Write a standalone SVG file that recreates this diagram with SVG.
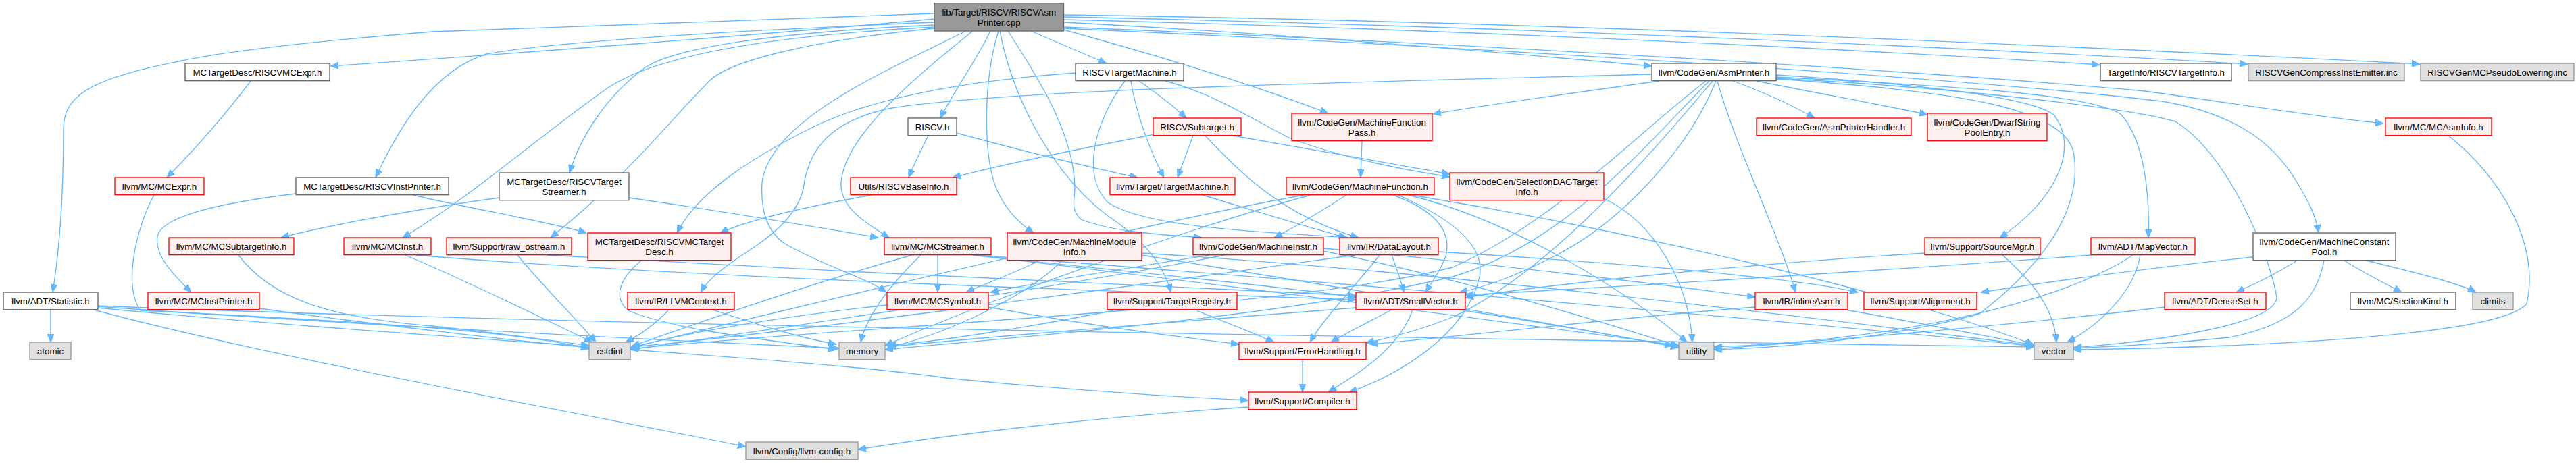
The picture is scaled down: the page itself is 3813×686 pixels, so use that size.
<svg xmlns="http://www.w3.org/2000/svg" width="3813" height="686" viewBox="0 0 3813 686">
<defs>
<marker id="a" markerWidth="13" markerHeight="10" refX="12" refY="5" orient="auto" markerUnits="userSpaceOnUse"><path d="M0,0 L12,5 L0,10 z" fill="#63b8ff" stroke="#63b8ff"/></marker>
<style>
rect{stroke-width:1.33}
.w rect{fill:#ffffff;stroke:#666666}
.r rect{fill:#fff0f0;stroke:#ff0000}
.g rect{fill:#e0e0e0;stroke:#999999}
.k rect{fill:#999999;stroke:#666666}
text{font-family:"Liberation Sans",Arial,Helvetica,sans-serif;font-size:13.33px;text-anchor:middle;fill:#000000}
#edges path{fill:none;stroke:#63b8ff;stroke-width:1.33;marker-end:url(#a)}
</style>
</defs>
<rect width="3813" height="686" fill="#ffffff"/>
<g id="edges">
<path d="M1383,28 C1150,50 750,80 489,98"/>
<path d="M1383,20 C1050,30 720,42 640,47 C480,60 340,75 269,90 C150,114 94,135 94,190 C94,290 88,370 78,433"/>
<path d="M1383,33 C1100,45 830,60 720,80 C640,105 590,190 556,263"/>
<path d="M1383,37 C1150,48 1000,70 955,100 C900,140 860,200 843,256"/>
<path d="M1466,46 C1445,90 1412,135 1392,175"/>
<path d="M1526,46 C1570,65 1610,82 1638,94"/>
<path d="M1574,33 C1900,50 2250,80 2445,98"/>
<path d="M1574,44 C1760,95 1880,135 1966,168"/>
<path d="M1574,29 C2100,42 2700,70 3108,96"/>
<path d="M1574,25 C2200,38 2900,70 3327,95"/>
<path d="M1574,22 C2300,32 3100,70 3582,95"/>
<path d="M1574,40 C2300,70 2900,110 3175,135 C3320,155 3420,172 3528,183"/>
<path d="M1574,42 C2300,75 2950,120 3200,150 C3320,170 3370,220 3400,270 C3418,300 3428,320 3432,345"/>
<path d="M1478,46 C1455,120 1455,230 1475,280 C1490,315 1515,335 1530,345"/>
<path d="M1492,46 C1540,120 1590,200 1591,280 C1590,300 1585,310 1600,325 C1650,345 1730,348 1779,352"/>
<path d="M1383,40 C1100,55 960,90 900,130 C800,200 700,290 596,352"/>
<path d="M1440,46 C1360,110 1250,200 1245,270 C1242,310 1290,335 1316,352"/>
<path d="M1430,46 C1300,110 1140,180 1128,270 C1125,320 1140,345 1160,360 C1220,395 1280,410 1312,433"/>
<path d="M1480,46 C1500,150 1560,260 1640,320 C1700,360 1725,400 1733,433"/>
<path d="M1383,42 C1200,60 1080,90 1050,120 C990,180 930,260 815,352"/>
<path d="M371,120 C330,175 280,230 247,263"/>
<path d="M228,289 C205,330 180,420 208,460 C400,470 750,485 872,517"/>
<path d="M438,287 C330,300 240,320 233,350 C228,380 260,410 283,433"/>
<path d="M611,289 C700,310 820,330 868,345"/>
<path d="M739,293 C650,305 500,330 416,352"/>
<path d="M931,293 C1050,310 1200,335 1300,352"/>
<path d="M1374,201 C1362,225 1352,245 1345,263"/>
<path d="M1416,197 C1500,220 1600,245 1684,263"/>
<path d="M1686,120 C1715,140 1740,160 1756,175"/>
<path d="M1674,120 C1680,160 1700,220 1723,263"/>
<path d="M1592,108 C1450,118 1300,140 1200,190 C1100,240 1030,290 1002,345"/>
<path d="M1665,120 C1620,180 1600,260 1640,300 C1700,340 1900,345 1995,352"/>
<path d="M1725,120 C1800,140 1850,175 1910,205 C1990,235 2080,252 2146,262"/>
<path d="M1709,199 C1600,220 1480,245 1410,263"/>
<path d="M1766,201 L1743,263"/>
<path d="M1784,201 C1840,260 1900,320 2011,352"/>
<path d="M1825,201 C1900,215 2050,240 2146,258"/>
<path d="M1290,289 C1200,305 1110,325 1066,345"/>
<path d="M1780,289 C1850,310 1930,335 1993,352"/>
<path d="M2016,209 L2014,263"/>
<path d="M2456,120 C2350,135 2200,155 2121,169"/>
<path d="M2565,120 C2620,140 2660,160 2686,175"/>
<path d="M2600,120 C2700,140 2800,158 2853,170"/>
<path d="M2542,120 C2570,220 2630,340 2658,433"/>
<path d="M2629,111 C2800,122 3000,140 3040,170 C3080,220 3040,300 2960,352"/>
<path d="M2629,114 C2900,128 3100,140 3140,170 C3175,210 3182,290 3180,352"/>
<path d="M2629,117 C2900,135 3060,160 3070,230 C3080,300 3040,380 2930,465 C2800,500 2650,515 2537,518"/>
<path d="M2629,116 C2900,130 3150,160 3220,180 C3300,230 3360,380 3370,440 C3370,480 3200,505 3069,515"/>
<path d="M2445,110 C2000,122 1500,132 1320,160 C1220,180 1195,230 1189,280 C1180,320 1140,350 1118,365 C1080,390 1050,410 1037,433"/>
<path d="M2535,120 C2450,220 2300,400 2150,470 C2100,490 2060,500 2022,508"/>
<path d="M2540,120 C2500,220 2400,330 2300,380 C2240,410 2200,425 2160,433"/>
<path d="M2525,120 C2420,200 2300,330 2150,396 C1900,460 1300,480 933,517"/>
<path d="M2530,120 C2440,210 2320,360 2150,410 C1900,470 1500,500 1310,518"/>
<path d="M1993,289 C1960,310 1920,335 1886,352"/>
<path d="M2062,289 C2120,310 2150,340 2140,380 C2130,405 2118,420 2110,433"/>
<path d="M2070,289 C2140,320 2200,360 2190,410 C2170,500 2060,560 1997,581"/>
<path d="M2085,289 C2250,330 2420,440 2497,507"/>
<path d="M2090,289 C2400,340 2800,430 3011,511"/>
<path d="M1930,289 C1700,330 1200,450 933,515"/>
<path d="M1940,289 C1750,340 1450,450 1310,512"/>
<path d="M1959,368 C2200,390 2450,420 2598,440"/>
<path d="M1790,378 C1650,400 1530,420 1466,433"/>
<path d="M1813,378 C1600,420 1200,480 933,518"/>
<path d="M1959,372 C2150,410 2350,470 2485,513"/>
<path d="M1539,386 C1500,405 1460,420 1430,433"/>
<path d="M1572,386 C1520,440 1400,495 1314,515"/>
<path d="M1690,378 C1950,420 2250,470 2485,515"/>
<path d="M1690,375 C2100,400 2600,460 3011,512"/>
<path d="M1388,378 L1388,433"/>
<path d="M1350,378 C1200,420 1000,490 935,513"/>
<path d="M1363,378 C1330,410 1285,460 1274,507"/>
<path d="M1439,378 C1650,400 1900,425 2007,440"/>
<path d="M1440,378 C1800,420 2250,480 2485,512"/>
<path d="M1445,378 C2000,420 2700,480 3011,513"/>
<path d="M1463,455 C1600,480 1750,500 1834,510"/>
<path d="M1313,452 C1150,470 1000,495 935,516"/>
<path d="M600,378 C700,420 820,480 877,507"/>
<path d="M616,378 C1000,410 1600,430 2007,444"/>
<path d="M353,378 C400,440 480,470 640,483 C750,495 820,505 872,512"/>
<path d="M384,457 C550,480 760,505 872,515"/>
<path d="M75,459 L75,507"/>
<path d="M139,459 C400,530 900,620 1104,662"/>
<path d="M144,456 C600,500 1200,530 1400,560 C1600,580 1780,590 1848,593"/>
<path d="M144,454 C500,480 1000,505 1242,516"/>
<path d="M144,453 C800,480 2000,500 3011,514"/>
<path d="M766,378 C800,420 860,480 882,507"/>
<path d="M810,378 C1200,400 1700,425 2007,438"/>
<path d="M990,459 C970,480 950,495 926,507"/>
<path d="M1055,459 C1120,480 1180,500 1238,510"/>
<path d="M949,386 C920,410 905,440 930,460 C1000,490 1150,505 1238,518"/>
<path d="M2060,378 C2068,400 2075,420 2078,433"/>
<path d="M2042,378 C2010,420 1960,470 1939,507"/>
<path d="M2129,373 C2400,390 2650,410 2750,433"/>
<path d="M2005,378 C1700,420 1200,490 935,514"/>
<path d="M2060,459 C2020,480 1990,495 1970,507"/>
<path d="M2091,459 C2070,520 2000,560 1966,581"/>
<path d="M2007,456 C1700,480 1450,500 1314,514"/>
<path d="M2160,459 C2300,480 2400,500 2476,512"/>
<path d="M1928,533 L1928,581"/>
<path d="M1848,603 C1600,620 1400,645 1270,666"/>
<path d="M1769,459 C1820,480 1860,495 1886,507"/>
<path d="M1653,459 C1550,480 1400,505 1314,512"/>
<path d="M2597,455 C2400,470 2200,495 2028,510"/>
<path d="M2732,459 C2850,480 2950,500 3009,511"/>
<path d="M2849,375 C2600,390 2300,420 2169,441"/>
<path d="M2964,378 C3000,410 3040,450 3044,507"/>
<path d="M3095,378 C2800,400 2400,425 2169,437"/>
<path d="M3157,378 C3050,450 2800,505 2537,514"/>
<path d="M3168,378 C3160,430 3110,480 3060,507"/>
<path d="M3204,455 C3000,480 2700,505 2537,517"/>
<path d="M3400,386 C3370,405 3340,420 3310,433"/>
<path d="M3470,386 C3500,405 3530,420 3555,433"/>
<path d="M3503,386 C3580,405 3640,420 3665,433"/>
<path d="M3334,381 C3200,395 3050,415 2932,433"/>
<path d="M3440,386 C3430,440 3400,480 3300,500 C3200,510 3120,514 3069,516"/>
<path d="M3624,201 C3700,260 3760,360 3740,450 C3700,500 3300,515 3069,518"/>
<path d="M2374,294 C2450,330 2500,420 2505,507"/>
</g>
<g id="n_root" class="k"><rect x="1383" y="4.7" width="191.5" height="41.3"/><text x="1478.7" y="23">lib/Target/RISCV/RISCVAsm</text><text x="1478.7" y="38">Printer.cpp</text></g>
<g id="n_rmcexpr" class="w"><rect x="274" y="94" width="214" height="25.7"/><text x="381" y="112.3">MCTargetDesc/RISCVMCExpr.h</text></g>
<g id="n_mcexpr" class="r"><rect x="170" y="263" width="132" height="25.7"/><text x="236" y="281.3">llvm/MC/MCExpr.h</text></g>
<g id="n_instprinter" class="w"><rect x="438" y="263" width="226" height="25.7"/><text x="551" y="281.3">MCTargetDesc/RISCVInstPrinter.h</text></g>
<g id="n_tstreamer" class="w"><rect x="739" y="256" width="192" height="40.7"/><text x="835" y="274">MCTargetDesc/RISCVTarget</text><text x="835" y="289">Streamer.h</text></g>
<g id="n_riscvh" class="w"><rect x="1344" y="175" width="72" height="25.7"/><text x="1380" y="193.3">RISCV.h</text></g>
<g id="n_rtm" class="w"><rect x="1592" y="94" width="160" height="25.7"/><text x="1672" y="112.3">RISCVTargetMachine.h</text></g>
<g id="n_asmprinter" class="w"><rect x="2445" y="94" width="184" height="25.7"/><text x="2537" y="112.3">llvm/CodeGen/AsmPrinter.h</text></g>
<g id="n_mfpass" class="r"><rect x="1912" y="168" width="208" height="40.7"/><text x="2016" y="186">llvm/CodeGen/MachineFunction</text><text x="2016" y="201">Pass.h</text></g>
<g id="n_tinfo" class="w"><rect x="3109" y="94" width="194" height="25.7"/><text x="3206" y="112.3">TargetInfo/RISCVTargetInfo.h</text></g>
<g id="n_compress" class="g"><rect x="3328" y="94" width="231" height="25.7"/><text x="3443.5" y="112.3">RISCVGenCompressInstEmitter.inc</text></g>
<g id="n_pseudo" class="g"><rect x="3583" y="94" width="227" height="25.7"/><text x="3696.5" y="112.3">RISCVGenMCPseudoLowering.inc</text></g>
<g id="n_mcasminfo" class="r"><rect x="3531" y="175" width="157" height="25.7"/><text x="3609.5" y="193.3">llvm/MC/MCAsmInfo.h</text></g>
<g id="n_mcp" class="w"><rect x="3335" y="345" width="211" height="40.7"/><text x="3440.5" y="363">llvm/CodeGen/MachineConstant</text><text x="3440.5" y="378">Pool.h</text></g>
<g id="n_mmi" class="r"><rect x="1491" y="345" width="199" height="40.7"/><text x="1590.5" y="363">llvm/CodeGen/MachineModule</text><text x="1590.5" y="378">Info.h</text></g>
<g id="n_mcinst" class="r"><rect x="509" y="352" width="129" height="25.7"/><text x="573.5" y="370.3">llvm/MC/MCInst.h</text></g>
<g id="n_mcstreamer" class="r"><rect x="1309" y="352" width="158" height="25.7"/><text x="1388" y="370.3">llvm/MC/MCStreamer.h</text></g>
<g id="n_mcsymbol" class="r"><rect x="1313" y="433" width="150" height="25.7"/><text x="1388" y="451.3">llvm/MC/MCSymbol.h</text></g>
<g id="n_treg" class="r"><rect x="1639" y="433" width="192" height="25.7"/><text x="1735" y="451.3">llvm/Support/TargetRegistry.h</text></g>
<g id="n_rawos" class="r"><rect x="661" y="352" width="185" height="25.7"/><text x="753.5" y="370.3">llvm/Support/raw_ostream.h</text></g>
<g id="n_minstr" class="r"><rect x="1766" y="352" width="193" height="25.7"/><text x="1862.5" y="370.3">llvm/CodeGen/MachineInstr.h</text></g>
<g id="n_mcinstprinter" class="r"><rect x="219" y="433" width="165" height="25.7"/><text x="301.5" y="451.3">llvm/MC/MCInstPrinter.h</text></g>
<g id="n_mcsti" class="r"><rect x="250" y="352" width="185" height="25.7"/><text x="342.5" y="370.3">llvm/MC/MCSubtargetInfo.h</text></g>
<g id="n_rmctd" class="r"><rect x="870" y="345" width="212" height="40.7"/><text x="976" y="363">MCTargetDesc/RISCVMCTarget</text><text x="976" y="378">Desc.h</text></g>
<g id="n_baseinfo" class="r"><rect x="1259" y="263" width="157" height="25.7"/><text x="1337.5" y="281.3">Utils/RISCVBaseInfo.h</text></g>
<g id="n_tm" class="r"><rect x="1643" y="263" width="185" height="25.7"/><text x="1735.5" y="281.3">llvm/Target/TargetMachine.h</text></g>
<g id="n_subtarget" class="r"><rect x="1707" y="175" width="130" height="25.7"/><text x="1772" y="193.3">RISCVSubtarget.h</text></g>
<g id="n_mf" class="r"><rect x="1904" y="263" width="219" height="25.7"/><text x="2013.5" y="281.3">llvm/CodeGen/MachineFunction.h</text></g>
<g id="n_sdag" class="r"><rect x="2146" y="256" width="228" height="40.7"/><text x="2260" y="274">llvm/CodeGen/SelectionDAGTarget</text><text x="2260" y="289">Info.h</text></g>
<g id="n_aph" class="r"><rect x="2600" y="175" width="229" height="25.7"/><text x="2714.5" y="193.3">llvm/CodeGen/AsmPrinterHandler.h</text></g>
<g id="n_dwarf" class="r"><rect x="2853" y="168" width="177" height="40.7"/><text x="2941.5" y="186">llvm/CodeGen/DwarfString</text><text x="2941.5" y="201">PoolEntry.h</text></g>
<g id="n_llvmctx" class="r"><rect x="929" y="433" width="158" height="25.7"/><text x="1008" y="451.3">llvm/IR/LLVMContext.h</text></g>
<g id="n_dl" class="r"><rect x="1983" y="352" width="146" height="25.7"/><text x="2056" y="370.3">llvm/IR/DataLayout.h</text></g>
<g id="n_sv" class="r"><rect x="2007" y="433" width="162" height="25.7"/><text x="2088" y="451.3">llvm/ADT/SmallVector.h</text></g>
<g id="n_eh" class="r"><rect x="1834" y="507" width="188" height="25.7"/><text x="1928" y="525.3">llvm/Support/ErrorHandling.h</text></g>
<g id="n_compiler" class="r"><rect x="1848" y="581" width="160" height="25.7"/><text x="1928" y="599.3">llvm/Support/Compiler.h</text></g>
<g id="n_cfg" class="g"><rect x="1104" y="655" width="166" height="25.7"/><text x="1187" y="673.3">llvm/Config/llvm-config.h</text></g>
<g id="n_cstdint" class="g"><rect x="872" y="507" width="61" height="25.7"/><text x="902.5" y="525.3">cstdint</text></g>
<g id="n_memory" class="g"><rect x="1242" y="507" width="68" height="25.7"/><text x="1276" y="525.3">memory</text></g>
<g id="n_utility" class="g"><rect x="2485" y="507" width="52" height="25.7"/><text x="2511" y="525.3">utility</text></g>
<g id="n_vector" class="g"><rect x="3011" y="507" width="58" height="25.7"/><text x="3040" y="525.3">vector</text></g>
<g id="n_atomic" class="g"><rect x="44" y="507" width="61" height="25.7"/><text x="74.5" y="525.3">atomic</text></g>
<g id="n_statistic" class="w"><rect x="5" y="433" width="140" height="25.7"/><text x="75" y="451.3">llvm/ADT/Statistic.h</text></g>
<g id="n_smgr" class="r"><rect x="2849" y="352" width="171" height="25.7"/><text x="2934.5" y="370.3">llvm/Support/SourceMgr.h</text></g>
<g id="n_mapvec" class="r"><rect x="3095" y="352" width="154" height="25.7"/><text x="3172" y="370.3">llvm/ADT/MapVector.h</text></g>
<g id="n_inlineasm" class="r"><rect x="2598" y="433" width="137" height="25.7"/><text x="2666.5" y="451.3">llvm/IR/InlineAsm.h</text></g>
<g id="n_align" class="r"><rect x="2759" y="433" width="167" height="25.7"/><text x="2842.5" y="451.3">llvm/Support/Alignment.h</text></g>
<g id="n_denseset" class="r"><rect x="3204" y="433" width="150" height="25.7"/><text x="3279" y="451.3">llvm/ADT/DenseSet.h</text></g>
<g id="n_skind" class="w"><rect x="3479" y="433" width="156" height="25.7"/><text x="3557" y="451.3">llvm/MC/SectionKind.h</text></g>
<g id="n_climits" class="g"><rect x="3660" y="433" width="60" height="25.7"/><text x="3690" y="451.3">climits</text></g>
</svg>
